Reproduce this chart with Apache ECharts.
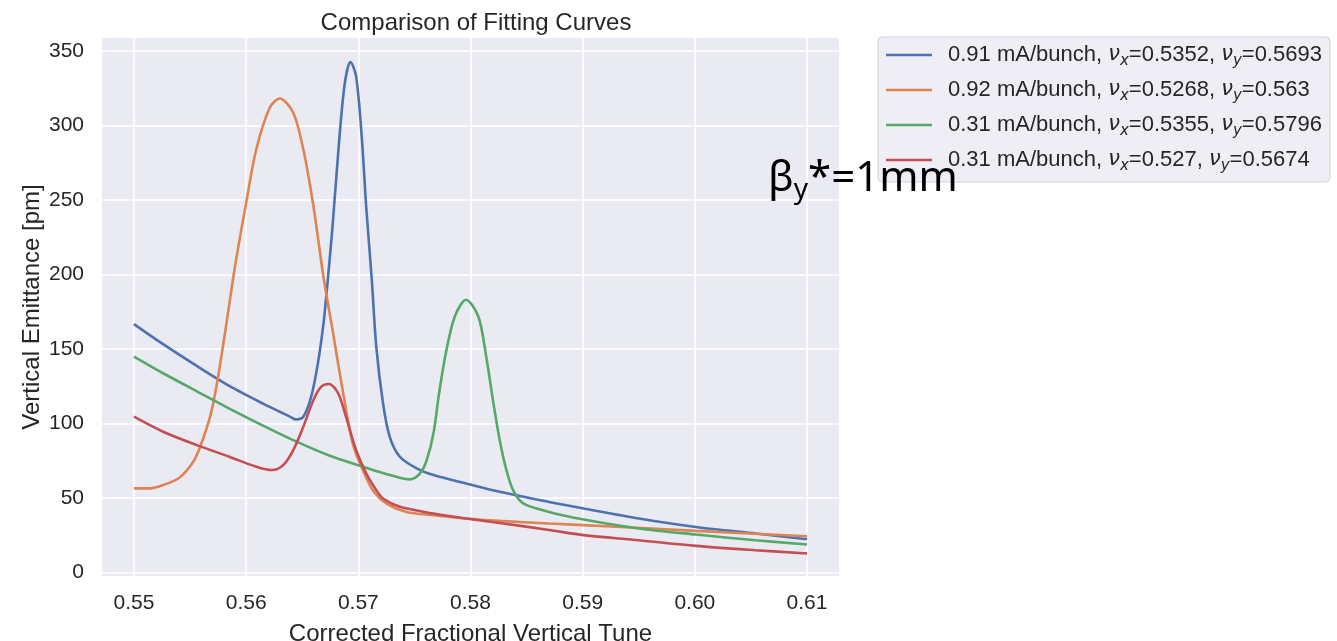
<!DOCTYPE html>
<html>
<head>
<meta charset="utf-8">
<script src="https://cdn.jsdelivr.net/npm/echarts@6/dist/echarts.min.js"></script>
<style>
  html, body { margin: 0; padding: 0; background: #ffffff; }
  #chart { width: 1337px; height: 641px; }
</style>
</head>
<body>
<div id="chart"></div>
<script>
// ---- data ----
const xTicks = [0.55, 0.56, 0.57, 0.58, 0.59, 0.60, 0.61];
const xTickLabels = ['0.55', '0.56', '0.57', '0.58', '0.59', '0.60', '0.61'];
const yTicks = [0, 50, 100, 150, 200, 250, 300, 350];

const currents = ['0.91 mA/bunch', '0.92 mA/bunch', '0.31 mA/bunch', '0.31 mA/bunch'];
const nuX = ['0.5352', '0.5268', '0.5355', '0.527'];
const nuY = ['0.5693', '0.563', '0.5796', '0.5674'];

const blueX = [0.5500, 0.5526, 0.5556, 0.5585, 0.5615, 0.5630, 0.5639, 0.5644, 0.5651, 0.5658, 0.5664, 0.5669, 0.5672, 0.5677, 0.5683, 0.5688, 0.5693, 0.5698, 0.5703, 0.5707, 0.5712, 0.5716, 0.5722, 0.5728, 0.5737, 0.5752, 0.5767, 0.5796, 0.5826, 0.5870, 0.5901, 0.5950, 0.6001, 0.6054, 0.6100];
const blueY = [166.7, 153.2, 138.6, 125.2, 113.3, 107.9, 104.6, 102.8, 104.6, 118.0, 140.5, 167.3, 190.0, 232.0, 290.5, 328.6, 342.5, 333.0, 292.8, 245.7, 196.5, 151.6, 113.6, 91.1, 77.7, 69.9, 65.4, 59.8, 54.2, 47.4, 43.0, 36.3, 30.6, 26.2, 22.4];

const orangeX = [0.5500, 0.5514, 0.5526, 0.5541, 0.5553, 0.5559, 0.5568, 0.5574, 0.5582, 0.5590, 0.5600, 0.5609, 0.5621, 0.5630, 0.5642, 0.5651, 0.5660, 0.5669, 0.5677, 0.5686, 0.5695, 0.5704, 0.5713, 0.5725, 0.5743, 0.5767, 0.5796, 0.5826, 0.5870, 0.5921, 0.6001, 0.6100];
const orangeY = [56.5, 56.5, 58.7, 64.0, 74.5, 84.4, 105.0, 127.0, 165.0, 205.0, 248.0, 283.8, 311.8, 318.0, 308.5, 283.8, 245.7, 198.0, 162.8, 122.5, 86.7, 68.8, 55.3, 46.4, 40.7, 38.5, 36.3, 34.7, 32.9, 31.1, 28.0, 24.4];

const greenX = [0.5500, 0.5526, 0.5556, 0.5585, 0.5615, 0.5645, 0.5674, 0.5704, 0.5719, 0.5737, 0.5746, 0.5755, 0.5761, 0.5767, 0.5772, 0.5778, 0.5786, 0.5796, 0.5807, 0.5814, 0.5820, 0.5826, 0.5832, 0.5838, 0.5847, 0.5870, 0.5901, 0.5950, 0.6001, 0.6054, 0.6100];
const greenY = [144.9, 133.7, 121.6, 110.0, 98.6, 87.8, 78.5, 71.0, 67.4, 63.6, 62.5, 66.5, 75.5, 93.4, 120.3, 147.2, 171.8, 183.0, 171.8, 144.9, 115.8, 88.9, 68.8, 55.3, 46.4, 40.7, 35.6, 29.6, 25.5, 21.7, 18.8];

const redX = [0.5500, 0.5526, 0.5556, 0.5585, 0.5609, 0.5623, 0.5633, 0.5642, 0.5651, 0.5660, 0.5667, 0.5674, 0.5682, 0.5689, 0.5698, 0.5707, 0.5716, 0.5722, 0.5737, 0.5767, 0.5796, 0.5826, 0.5870, 0.5901, 0.5950, 0.6001, 0.6054, 0.6100];
const redY = [104.6, 94.5, 85.5, 77.7, 71.0, 68.8, 72.1, 82.2, 97.9, 115.8, 124.7, 126.5, 120.3, 104.6, 82.2, 66.5, 55.3, 49.7, 44.1, 39.6, 36.3, 33.3, 28.6, 25.1, 21.7, 17.9, 15.0, 12.8];

const colors = ['#4C72B0', '#DD8452', '#55A868', '#C44E52'];
const seriesX = [blueX, orangeX, greenX, redX];
const seriesY = [blueY, orangeY, greenY, redY];

// ---- chart ----
const FONT = "'Liberation Sans', Arial, sans-serif";
const names = currents.map((c, i) => c + ', vx=' + nuX[i] + ', vy=' + nuY[i]);

const chart = echarts.init(document.getElementById('chart'), null, { renderer: 'canvas' });

const option = {
  animation: false,
  backgroundColor: '#ffffff',
  title: {
    text: 'Comparison of Fitting Curves',
    left: 471,
    top: 6,
    textAlign: 'center',
    textStyle: { fontFamily: FONT, fontSize: 24, fontWeight: 'normal', color: '#262626' }
  },
  grid: {
    left: 102, right: 498, top: 38, bottom: 65,
    show: true, backgroundColor: '#EAEAF2', borderWidth: 0,
    containLabel: false,
    outerBoundsMode: 'none'
  },
  xAxis: {
    type: 'value',
    min: 0.54715, max: 0.61285,
    name: 'Corrected Fractional Vertical Tune',
    nameLocation: 'middle',
    nameGap: 46,
    nameMoveOverlap: false,
    nameTextStyle: { fontFamily: FONT, fontSize: 24, color: '#262626' },
    axisLine: { show: false },
    axisTick: { show: false, customValues: xTicks },
    axisLabel: {
      customValues: xTicks,
      formatter: function (v) {
        const i = xTicks.findIndex(t => Math.abs(t - v) < 1e-9);
        return i >= 0 ? xTickLabels[i] : '';
      },
      margin: 17,
      fontFamily: FONT, fontSize: 21, color: '#262626'
    },
    splitLine: { show: true, lineStyle: { color: '#ffffff', width: 1.6 } }
  },
  yAxis: {
    type: 'value',
    min: -2.3, max: 358.6,
    name: 'Vertical Emittance [pm]',
    nameLocation: 'middle',
    nameRotate: 90,
    nameGap: 58,
    nameMoveOverlap: false,
    nameTextStyle: { fontFamily: FONT, fontSize: 24, color: '#262626' },
    axisLine: { show: false },
    axisTick: { show: false, customValues: yTicks },
    axisLabel: {
      customValues: yTicks,
      margin: 18,
      fontFamily: FONT, fontSize: 21, color: '#262626'
    },
    splitLine: { show: true, lineStyle: { color: '#ffffff', width: 1.6 } }
  },
  legend: {
    orient: 'vertical',
    left: 878, top: 37,
    padding: [7, 8, 8, 8],
    icon: 'rect',
    itemWidth: 46, itemHeight: 2.4,
    itemGap: 10,
    backgroundColor: '#EEEEF4',
    borderColor: '#D3D3DA', borderWidth: 1, borderRadius: 4,
    data: names,
    formatter: function (name) {
      const i = names.indexOf(name);
      return '{t|' + currents[i] + ', }{n|\u03BD}{s|x}{t|=' + nuX[i] + ', }{n|\u03BD}{s|y}{t|=' + nuY[i] + '}';
    },
    textStyle: {
      padding: [0, 0, 0, 11],
      color: '#262626',
      rich: {
        t: { fontFamily: FONT, fontSize: 22, lineHeight: 28, color: '#262626' },
        n: { fontFamily: "'DejaVu Sans'", fontStyle: 'italic', fontSize: 21, lineHeight: 28, color: '#262626' },
        s: { fontFamily: "'DejaVu Sans'", fontStyle: 'italic', fontSize: 15, lineHeight: 15, verticalAlign: 'bottom', color: '#262626' }
      }
    }
  },
  graphic: [{
    type: 'text',
    left: 768, top: 158, z: 100,
    style: {
      text: '{b|\u03B2}{s|y}{t|*=1mm}',
      rich: {
        b: { fontFamily: "'Noto Sans'", fontSize: 42, lineHeight: 50, fill: '#000' },
        s: { fontFamily: "'Noto Sans'", fontSize: 28, lineHeight: 26, verticalAlign: 'bottom', fill: '#000' },
        t: { fontFamily: "'Noto Sans'", fontSize: 42, lineHeight: 50, fill: '#000' }
      }
    }
  }],
  series: names.map((n, i) => ({
    name: n,
    type: 'line',
    data: seriesX[i].map((x, k) => [x, seriesY[i][k]]),
    symbol: 'none',
    smooth: 0.3,
    color: colors[i],
    lineStyle: { color: colors[i], width: 2.6 },
    z: 2 + i
  }))
};

chart.setOption(option);
</script>
</body>
</html>
